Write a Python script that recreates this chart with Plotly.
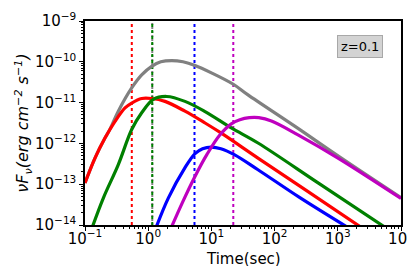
import numpy as np
import plotly.graph_objects as go

# --- data (log10 of time in s, log10 of nuF_nu in erg cm^-2 s^-1) ---
gray_logt = [-1.0, -0.842, -0.684, -0.604, -0.473, -0.261, -0.103, 0.055, 0.2, 0.372, 0.55, 0.741,
             1.0, 1.347, 1.579, 2.312, 3.056, 4.0]
gray_logf = [-12.97, -12.36, -11.87, -11.65, -11.21, -10.64, -10.32, -10.11, -10.0, -9.97, -10.0, -10.09,
             -10.27, -10.55, -10.81, -11.57, -12.36, -13.33]

red_logt = [-1.0, -0.842, -0.684, -0.525, -0.367, -0.261, -0.103, 0.055, 0.266, 0.582, 0.9, 1.157,
            1.737, 2.5, 3.40]
red_logf = [-12.97, -12.36, -11.87, -11.46, -11.13, -11.01, -10.90, -10.90, -10.97, -11.21, -11.50,
            -11.75, -12.36, -13.15, -14.09]

green_logt = [-0.90, -0.71, -0.473, -0.261, -0.103, 0.081, 0.293, 0.582, 0.9, 1.315, 1.737, 2.7, 3.78]
green_logf = [-14.12, -13.34, -12.52, -11.66, -11.25, -10.92, -10.85, -10.97, -11.22, -11.62, -11.99,
              -12.98, -14.09]

blue_logt = [0.12, 0.318, 0.58, 0.741, 0.86, 0.998, 1.15, 1.369, 1.737, 2.4, 3.19]
blue_logf = [-14.08, -13.34, -12.60, -12.25, -12.13, -12.09, -12.13, -12.28, -12.645, -13.33, -14.09]

magenta_logt = [0.36, 0.55, 0.74, 0.93, 1.13, 1.315, 1.45, 1.6, 1.75, 1.95, 2.37, 3.003, 4.0]
magenta_logf = [-14.08, -13.42, -12.81, -12.27, -11.80, -11.52, -11.42, -11.37, -11.37,
                -11.45, -11.79, -12.36, -13.35]

# vertical dotted markers (time in s)
vline_times = [0.55, 1.16, 1.16, 5.4, 22.2]
vline_colors = ["red", "gray", "green", "blue", "#bf00bf"]

x_tick_exps = [-1, 0, 1, 2, 3, 4]
y_tick_exps = [-14, -13, -12, -11, -10, -9]


def sup(e):
    return "10<sup>" + (str(e).replace("-", "\u2212")) + "</sup>"


x_tick_labels = [sup(e) for e in x_tick_exps]
y_tick_labels = [sup(e) for e in y_tick_exps]

fig = go.Figure()

for t, c in zip(vline_times, vline_colors):
    fig.add_trace(go.Scatter(
        x=[t, t], y=[1e-14, 1e-9], mode="lines",
        line=dict(color=c, width=2, dash="dot" if c != "gray" else "2px,2px"),
        showlegend=False, hoverinfo="skip"))

series = [
    (gray_logt, gray_logf, "gray"),
    (red_logt, red_logf, "red"),
    (green_logt, green_logf, "green"),
    (blue_logt, blue_logf, "blue"),
    (magenta_logt, magenta_logf, "#bf00bf"),
]
for lt, lf, c in series:
    fig.add_trace(go.Scatter(
        x=10 ** np.array(lt), y=10 ** np.array(lf), mode="lines",
        line=dict(color=c, width=3.2, shape="spline", smoothing=1.0),
        showlegend=False))

minor_x = [m * 10.0 ** e for e in range(-1, 4) for m in range(2, 10)]
minor_y = [m * 10.0 ** e for e in range(-14, -9) for m in range(2, 10)]

font = "DejaVu Sans"
fig.update_layout(
    width=415, height=266,
    margin=dict(l=77, r=22, t=13, b=49),
    paper_bgcolor="white", plot_bgcolor="white",
    font=dict(family=font, size=15, color="black"),
    xaxis=dict(
        type="log", range=[-1, 4], automargin=False,
        tickmode="array", tickvals=[10.0 ** e for e in x_tick_exps], ticktext=x_tick_labels,
        ticks="outside", ticklen=4, tickwidth=1, tickcolor="black",
        minor=dict(tickmode="array", tickvals=minor_x, ticks="outside", ticklen=2, tickcolor="black"),
        showgrid=False, zeroline=False, ticklabeloverflow="allow", ticklabelstandoff=-5,
        showline=True, linecolor="black", linewidth=1.5, mirror=True,
        tickfont=dict(size=15),
    ),
    yaxis=dict(
        type="log", range=[-14, -9], automargin=False,
        tickmode="array", tickvals=[10.0 ** e for e in y_tick_exps], ticktext=y_tick_labels,
        ticks="outside", ticklen=4, tickwidth=1, tickcolor="black",
        minor=dict(tickmode="array", tickvals=minor_y, ticks="outside", ticklen=2, tickcolor="black"),
        showgrid=False, zeroline=False, ticklabeloverflow="allow",
        showline=True, linecolor="black", linewidth=1.5, mirror=True,
        tickfont=dict(size=15),
        title=dict(text="<i>\u03bdF<sub>\u03bd</sub>(erg cm<sup>\u22122</sup> s<sup>\u22121</sup>)</i>",
                   font=dict(size=16), standoff=2),
    ),
    annotations=[
        dict(
            text="z=0.1", xref="paper", yref="paper", x=0.943, y=0.931,
            xanchor="right", yanchor="top", showarrow=False,
            font=dict(size=13, color="black"),
            bgcolor="#d3d3d3", bordercolor="#a8a8a8", borderwidth=1, borderpad=3,
        ),
        dict(
            text="Time(sec)", xref="paper", yref="paper", x=0.5, y=-0.165,
            xanchor="center", yanchor="middle", showarrow=False,
            font=dict(size=15, color="black"),
        ),
    ],
)

fig.write_html("out.html")
